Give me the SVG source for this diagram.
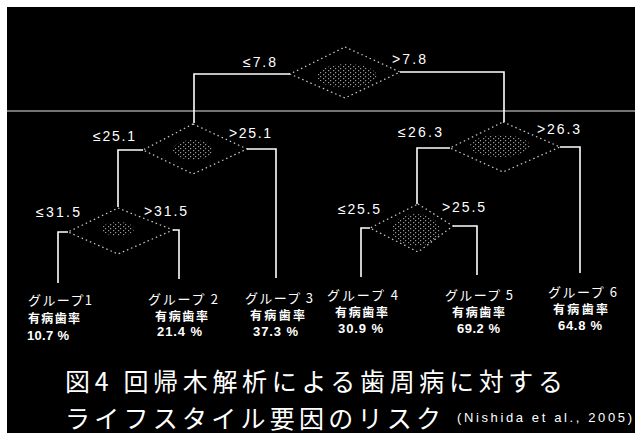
<svg xmlns="http://www.w3.org/2000/svg" width="635" height="440" viewBox="0 0 635 440">
<defs>
<pattern id="spk" width="5" height="4" patternUnits="userSpaceOnUse">
<rect x="0" y="0" width="1.2" height="1.2" fill="#fff"/>
<rect x="3" y="2" width="1.2" height="1.2" fill="#fff"/>
</pattern>
<style>
.bg{fill:#000}
.edge{fill:none;stroke:#fff;stroke-width:1.6}
.dia{fill:none;stroke:#fff;stroke-width:1.2;stroke-dasharray:1.5 3;opacity:0.8}
.noise{fill:url(#spk);opacity:0.6}
.thr{font-family:"Liberation Sans",Arial,sans-serif;font-size:14px;fill:#fff}
.grp{font-family:"Noto Sans CJK JP","Noto Sans CJK SC",sans-serif;font-size:13px;fill:#fff}
.rate{font-family:"Noto Sans CJK JP","Noto Sans CJK SC",sans-serif;font-size:12px;fill:#fff;font-weight:bold}
.pct{font-family:"Liberation Sans",Arial,sans-serif;font-size:13px;font-weight:bold;fill:#fff}
.ttl{font-family:"Noto Sans CJK JP","Noto Sans CJK SC",sans-serif;font-size:25px;fill:#fff}
.cite{font-family:"Liberation Sans",Arial,sans-serif;font-size:13px;fill:#fff}
</style>
</defs>
<rect x="0" y="0" width="635" height="440" fill="#fff"/>
<rect class="bg" x="7" y="7" width="628" height="426"/>
<line x1="7" y1="111" x2="635" y2="111" stroke="#fff" stroke-width="1.2" opacity="0.9"/>

<g id="connectors">
<polyline class="edge" points="290,74 194,74 194,123"/>
<polyline class="edge" points="400,72 504,72 504,122"/>
<polyline class="edge" points="143,150 118,150 118,207"/>
<polyline class="edge" points="247,149 276,149 276,278"/>
<polyline class="edge" points="68,232 58,232 58,283"/>
<polyline class="edge" points="173,230 179,230 179,279"/>
<polyline class="edge" points="450,148 417,148 417,204"/>
<polyline class="edge" points="560,147 580,147 580,273"/>
<polyline class="edge" points="370,228 361,228 361,277"/>
<polyline class="edge" points="453,226 477,226 477,275"/>
</g>

<g id="node-root">
<polygon class="dia" points="345,47 400,72 345,98 290,74"/>
<ellipse class="noise" cx="347" cy="76" rx="30" ry="12"/>
<text class="thr" x="243" y="67" textLength="33" lengthAdjust="spacing">≤7.8</text>
<text class="thr" x="392" y="64" textLength="34" lengthAdjust="spacing">&gt;7.8</text>
</g>
<g id="node-2">
<polygon class="dia" points="193,124 247,149 193,174 143,150"/>
<ellipse class="noise" cx="193" cy="150" rx="20" ry="10"/>
<text class="thr" x="93" y="141" textLength="42" lengthAdjust="spacing">≤25.1</text>
<text class="thr" x="229" y="138" textLength="42" lengthAdjust="spacing">&gt;25.1</text>
</g>
<g id="node-3">
<polygon class="dia" points="118,208 173,230 118,254 68,232"/>
<ellipse class="noise" cx="118" cy="229" rx="16" ry="7"/>
<text class="thr" x="36" y="217" textLength="44" lengthAdjust="spacing">≤31.5</text>
<text class="thr" x="144" y="216" textLength="43" lengthAdjust="spacing">&gt;31.5</text>
</g>
<g id="node-4">
<polygon class="dia" points="503,122 560,147 503,172 450,148"/>
<ellipse class="noise" cx="500" cy="146" rx="30" ry="11"/>
<text class="thr" x="398" y="137" textLength="44" lengthAdjust="spacing">≤26.3</text>
<text class="thr" x="537" y="134" textLength="43" lengthAdjust="spacing">&gt;26.3</text>
</g>
<g id="node-5">
<polygon class="dia" points="418,204 453,226 418,252 370,228"/>
<ellipse class="noise" cx="416" cy="230" rx="24" ry="16"/>
<text class="thr" x="338" y="214" textLength="42" lengthAdjust="spacing">≤25.5</text>
<text class="thr" x="442" y="212" textLength="43" lengthAdjust="spacing">&gt;25.5</text>
</g>

<g id="leaf-1">
<text class="grp" x="28" y="305" textLength="64" lengthAdjust="spacing">グループ1</text>
<text class="rate" x="28" y="323" textLength="52" lengthAdjust="spacing">有病歯率</text>
<text class="pct" x="27" y="340" textLength="42" lengthAdjust="spacing">10.7 %</text>
</g>
<g id="leaf-2">
<text class="grp" x="148" y="304" textLength="70" lengthAdjust="spacing">グループ 2</text>
<text class="rate" x="155" y="321" textLength="53" lengthAdjust="spacing">有病歯率</text>
<text class="pct" x="157" y="336" textLength="45" lengthAdjust="spacing">21.4 %</text>
</g>
<g id="leaf-3">
<text class="grp" x="245" y="303" textLength="68" lengthAdjust="spacing">グループ 3</text>
<text class="rate" x="250" y="320" textLength="55" lengthAdjust="spacing">有病歯率</text>
<text class="pct" x="253" y="336" textLength="45" lengthAdjust="spacing">37.3 %</text>
</g>
<g id="leaf-4">
<text class="grp" x="327" y="300" textLength="71" lengthAdjust="spacing">グループ 4</text>
<text class="rate" x="335" y="317" textLength="53" lengthAdjust="spacing">有病歯率</text>
<text class="pct" x="338" y="333" textLength="45" lengthAdjust="spacing">30.9 %</text>
</g>
<g id="leaf-5">
<text class="grp" x="445" y="300" textLength="68" lengthAdjust="spacing">グループ 5</text>
<text class="rate" x="452" y="317" textLength="53" lengthAdjust="spacing">有病歯率</text>
<text class="pct" x="457" y="333" textLength="43" lengthAdjust="spacing">69.2 %</text>
</g>
<g id="leaf-6">
<text class="grp" x="548" y="297" textLength="69" lengthAdjust="spacing">グループ 6</text>
<text class="rate" x="553" y="314" textLength="55" lengthAdjust="spacing">有病歯率</text>
<text class="pct" x="558" y="330" textLength="44" lengthAdjust="spacing">64.8 %</text>
</g>

<g id="title">
<text class="ttl" x="65" y="391" textLength="498" lengthAdjust="spacing">図4 回帰木解析による歯周病に対する</text>
<text class="ttl" x="65" y="428" textLength="376" lengthAdjust="spacing">ライフスタイル要因のリスク</text>
<text class="cite" x="457" y="422" textLength="175" lengthAdjust="spacing">(Nishida et al., 2005)</text>
</g>
</svg>
